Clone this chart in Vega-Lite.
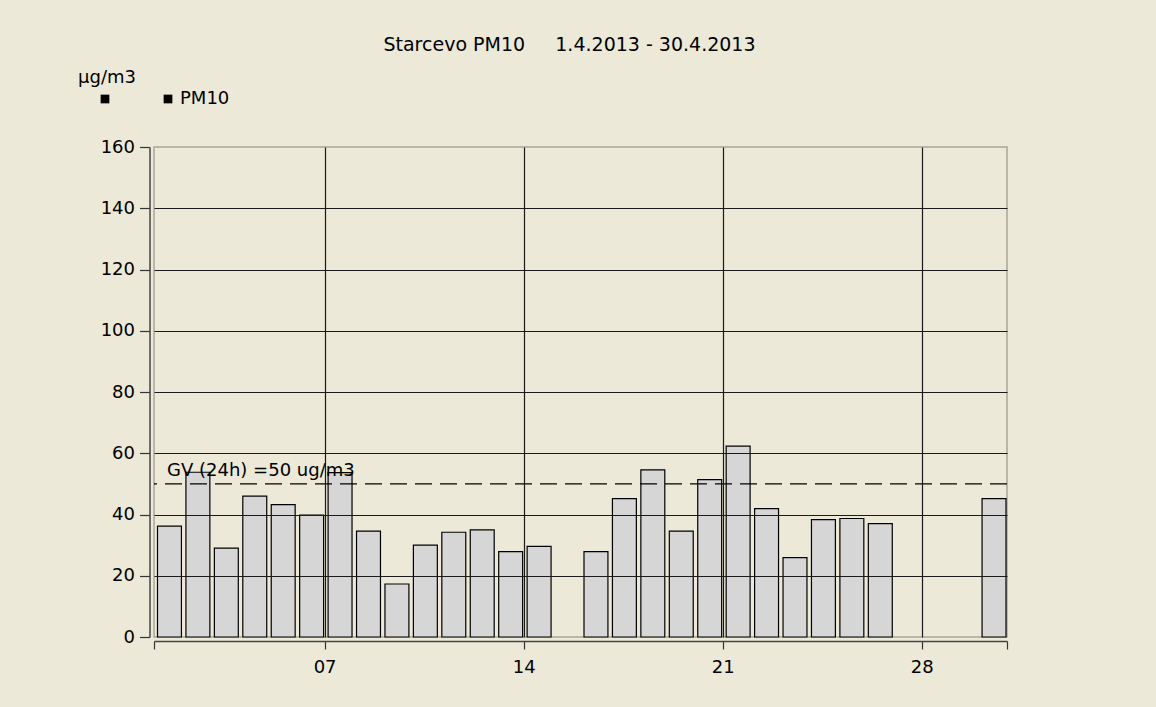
{
  "$schema": "https://vega.github.io/schema/vega-lite/v6.json",
  "width": 853,
  "height": 490,
  "autosize": "none",
  "padding": {"left": 154, "top": 147, "right": 149, "bottom": 70},
  "background": "#ECE9D8",
  "config": {
    "font": "DejaVu Sans",
    "view": {"fill": "white", "stroke": "#a8a698", "strokeWidth": 1.5},
    "axis": {"labelFont": "DejaVu Sans", "labelFontSize": 18, "labelColor": "#000", "titleFont": "DejaVu Sans"}
  },
  "title": {
    "text": "Starcevo PM10\u00a0\u00a0\u00a0\u00a0\u00a01.4.2013 - 30.4.2013",
    "font": "DejaVu Sans",
    "fontSize": 19,
    "fontWeight": "normal",
    "color": "#000",
    "anchor": "middle",
    "dx": -11,
    "baseline": "alphabetic",
    "offset": -2
  },
  "datasets": {
    "pm": [
      {"date": "2013-04-01", "pm10": 36.2, "series": "PM10"},
      {"date": "2013-04-02", "pm10": 53.8, "series": "PM10"},
      {"date": "2013-04-03", "pm10": 29.0, "series": "PM10"},
      {"date": "2013-04-04", "pm10": 46.0, "series": "PM10"},
      {"date": "2013-04-05", "pm10": 43.2, "series": "PM10"},
      {"date": "2013-04-06", "pm10": 39.8, "series": "PM10"},
      {"date": "2013-04-07", "pm10": 53.7, "series": "PM10"},
      {"date": "2013-04-08", "pm10": 34.6, "series": "PM10"},
      {"date": "2013-04-09", "pm10": 17.3, "series": "PM10"},
      {"date": "2013-04-10", "pm10": 30.0, "series": "PM10"},
      {"date": "2013-04-11", "pm10": 34.2, "series": "PM10"},
      {"date": "2013-04-12", "pm10": 35.0, "series": "PM10"},
      {"date": "2013-04-13", "pm10": 27.9, "series": "PM10"},
      {"date": "2013-04-14", "pm10": 29.6, "series": "PM10"},
      {"date": "2013-04-16", "pm10": 27.9, "series": "PM10"},
      {"date": "2013-04-17", "pm10": 45.2, "series": "PM10"},
      {"date": "2013-04-18", "pm10": 54.6, "series": "PM10"},
      {"date": "2013-04-19", "pm10": 34.6, "series": "PM10"},
      {"date": "2013-04-20", "pm10": 51.4, "series": "PM10"},
      {"date": "2013-04-21", "pm10": 62.3, "series": "PM10"},
      {"date": "2013-04-22", "pm10": 41.9, "series": "PM10"},
      {"date": "2013-04-23", "pm10": 25.9, "series": "PM10"},
      {"date": "2013-04-24", "pm10": 38.3, "series": "PM10"},
      {"date": "2013-04-25", "pm10": 38.7, "series": "PM10"},
      {"date": "2013-04-26", "pm10": 37.0, "series": "PM10"},
      {"date": "2013-04-30", "pm10": 45.2, "series": "PM10"}
    ],
    "limit": [
      {"label": "GV (24h) =50 ug/m3", "value": 50}
    ]
  },
  "layer": [
    {
      "data": {"name": "pm"},
      "mark": {"type": "bar", "fill": "#d6d6d6", "stroke": "#000", "strokeWidth": 1.2, "xOffset": -1, "x2Offset": 2.5},
      "encoding": {
        "x": {
          "field": "date",
          "type": "temporal",
          "timeUnit": "utcyearmonthdate",
          "title": null,
          "scale": {
            "type": "utc",
            "domain": [
              {"year": 2013, "month": 4, "date": 1, "utc": true},
              {"year": 2013, "month": 5, "date": 1, "utc": true}
            ]
          },
          "axis": {
            "values": [
              {"year": 2013, "month": 4, "date": 1, "utc": true},
              {"year": 2013, "month": 4, "date": 7, "utc": true},
              {"year": 2013, "month": 4, "date": 14, "utc": true},
              {"year": 2013, "month": 4, "date": 21, "utc": true},
              {"year": 2013, "month": 4, "date": 28, "utc": true},
              {"year": 2013, "month": 5, "date": 1, "utc": true}
            ],
            "labelExpr": "utcdate(datum.value) == 1 ? '' : utcFormat(datum.value, '%d')",
            "offset": 4,
            "tickSize": 8,
            "tickColor": "#333",
            "tickWidth": 1.2,
            "domainColor": "#444",
            "domainWidth": 1.5,
            "labelPadding": 9,
            "grid": true,
            "gridWidth": 1.2,
            "gridColor": {"condition": {"test": "utcdate(datum.value) == 1", "value": "transparent"}, "value": "#1a1a1a"},
            "zindex": 1
          }
        },
        "y": {
          "field": "pm10",
          "type": "quantitative",
          "scale": {"domain": [0, 160], "nice": false},
          "axis": {
            "values": [0, 20, 40, 60, 80, 100, 120, 140, 160],
            "offset": 4.5,
            "tickSize": 10,
            "tickColor": "#333",
            "tickWidth": 1.2,
            "domainColor": "#444",
            "domainWidth": 1.5,
            "labelPadding": 5,
            "grid": true,
            "gridWidth": 1.2,
            "gridColor": {"condition": {"test": "datum.value == 0 || datum.value == 160", "value": "transparent"}, "value": "#1a1a1a"},
            "title": "µg/m3",
            "titleAngle": 0,
            "titleAlign": "left",
            "titleBaseline": "alphabetic",
            "titleX": -72,
            "titleY": -65,
            "titleFontSize": 18,
            "titleFontWeight": "normal",
            "titleColor": "#000",
            "zindex": 1
          }
        }
      }
    },
    {
      "data": {"name": "limit"},
      "mark": {"type": "rule", "strokeDash": [17, 8], "color": "#000", "strokeWidth": 1.2},
      "encoding": {"y": {"field": "value", "type": "quantitative"}}
    },
    {
      "data": {"name": "limit"},
      "mark": {"type": "text", "align": "left", "baseline": "alphabetic", "font": "DejaVu Sans", "fontSize": 18, "color": "#000", "dy": -8},
      "encoding": {
        "text": {"field": "label"},
        "x": {"datum": {"year": 2013, "month": 4, "date": 1, "hours": 11, "utc": true}, "type": "temporal"},
        "y": {"field": "value", "type": "quantitative"}
      }
    },
    {
      "data": {"name": "pm"},
      "transform": [{"filter": "false"}],
      "mark": {"type": "square", "filled": true, "opacity": 1},
      "encoding": {
        "color": {
          "field": "series",
          "type": "nominal",
          "scale": {"domain": ["_", "PM10"], "range": ["#000", "#000"]},
          "legend": {
            "title": null,
            "orient": "none",
            "legendX": -58,
            "legendY": -57,
            "direction": "horizontal",
            "symbolType": "square",
            "symbolSize": 76,
            "symbolStrokeWidth": 0,
            "labelFontSize": 18,
            "labelFont": "DejaVu Sans",
            "labelColor": "#000",
            "labelOffset": 3,
            "columnPadding": 42,
            "padding": 0,
            "labelExpr": "datum.label == '_' ? '' : datum.label"
          }
        }
      }
    }
  ]
}
